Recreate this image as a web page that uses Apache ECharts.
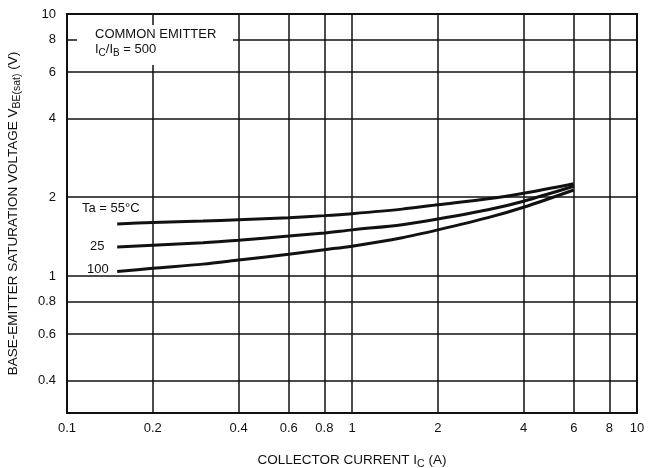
<!DOCTYPE html>
<html>
<head>
<meta charset="utf-8">
<script src="https://cdn.jsdelivr.net/npm/echarts@6/dist/echarts.min.js"></script>
<style>
  html, body { margin: 0; background: #fff; }
  #chart { width: 660px; height: 468px; }
</style>
</head>
<body>
<div id="chart"></div>
<script>
// tick / grid values
const xTicks = [0.1, 0.2, 0.4, 0.6, 0.8, 1, 2, 4, 6, 8, 10]
const yTicks = [0.4, 0.6, 0.8, 1, 2, 4, 6, 8, 10]

// collector current IC (A)
const current = [0.15, 0.2, 0.3, 0.4, 0.6, 0.8, 1, 1.5, 2, 3, 4, 6]
// VBE(sat) (V) for each Ta
const vbe55 = [1.58, 1.60, 1.62, 1.64, 1.67, 1.70, 1.73, 1.80, 1.87, 1.97, 2.07, 2.25]
const vbe25 = [1.29, 1.31, 1.34, 1.37, 1.42, 1.46, 1.50, 1.57, 1.65, 1.79, 1.93, 2.20]
const vbe100 = [1.04, 1.07, 1.11, 1.15, 1.21, 1.26, 1.30, 1.40, 1.50, 1.67, 1.83, 2.13]

const FONT = "'Liberation Sans', Arial, sans-serif"
const INK = '#111'

const chart = echarts.init(document.getElementById('chart'))

function curve(name, vals) {
  return {
    name: name,
    type: 'line',
    smooth: 0.3,
    showSymbol: false,
    silent: true,
    lineStyle: {color: INK, width: 3},
    data: current.map((x, i) => [x, vals[i]])
  }
}

const nameRich = {
  n: {fontSize: 13.5, fontFamily: FONT, color: INK, lineHeight: 18},
  s: {fontSize: 10.5, fontFamily: FONT, color: INK, padding: [8, 0, 0, 0]}
}

chart.setOption({
  animation: false,
  backgroundColor: '#fff',
  textStyle: {fontFamily: FONT, color: INK},
  grid: {left: 67, right: 23, top: 14, bottom: 55, show: true, borderColor: INK, borderWidth: 2,
    outerBoundsMode: 'none', containLabel: false},
  xAxis: {
    type: 'log', logBase: 10, min: 0.1, max: 10,
    axisLine: {show: true, lineStyle: {color: INK, width: 2}},
    axisTick: {show: false, customValues: xTicks},
    axisLabel: {customValues: xTicks, color: INK, fontSize: 13, fontFamily: FONT, margin: 9, formatter: v => String(v)},
    splitLine: {show: true, lineStyle: {color: INK, width: 1.5}},
    name: '{n|COLLECTOR CURRENT I}{s|C}{n| (A)}',
    nameLocation: 'middle', nameGap: 38,
    nameTextStyle: {rich: nameRich}
  },
  yAxis: {
    type: 'log', logBase: 10, min: 0.3, max: 10,
    axisLine: {show: true, lineStyle: {color: INK, width: 2}},
    axisTick: {show: false, customValues: yTicks},
    axisLabel: {customValues: yTicks, color: INK, fontSize: 13, fontFamily: FONT, margin: 11, formatter: v => String(v)},
    splitLine: {show: true, lineStyle: {color: INK, width: 1.5}},
    name: '{n|BASE-EMITTER SATURATION VOLTAGE V}{s|BE(sat)}{n| (V)}',
    nameLocation: 'middle', nameGap: 44,
    nameTextStyle: {rich: nameRich}
  },
  graphic: [
    {type: 'rect', z: 100, shape: {x: 77, y: 25, width: 156, height: 40}, style: {fill: '#fff'}},
    {type: 'text', z: 101, left: 95, top: 28, style: {text: 'COMMON EMITTER', font: '13px ' + FONT, fill: INK}},
    {type: 'text', z: 101, left: 95, top: 43, style: {
      text: '{n|I}{s|C}{n|/I}{s|B}{n| = 500}',
      rich: {
        n: {fontSize: 13, fontFamily: FONT, fill: INK, lineHeight: 17},
        s: {fontSize: 10, fontFamily: FONT, fill: INK, padding: [8, 0, 0, 0]}
      }
    }},
    {type: 'text', z: 101, left: 82, top: 202, style: {text: 'Ta = 55°C', font: '13px ' + FONT, fill: INK}},
    {type: 'text', z: 101, left: 90, top: 240, style: {text: '25', font: '13px ' + FONT, fill: INK}},
    {type: 'text', z: 101, left: 87, top: 263, style: {text: '100', font: '13px ' + FONT, fill: INK}}
  ],
  series: [curve('55', vbe55), curve('25', vbe25), curve('100', vbe100)]
})
</script>
</body>
</html>
